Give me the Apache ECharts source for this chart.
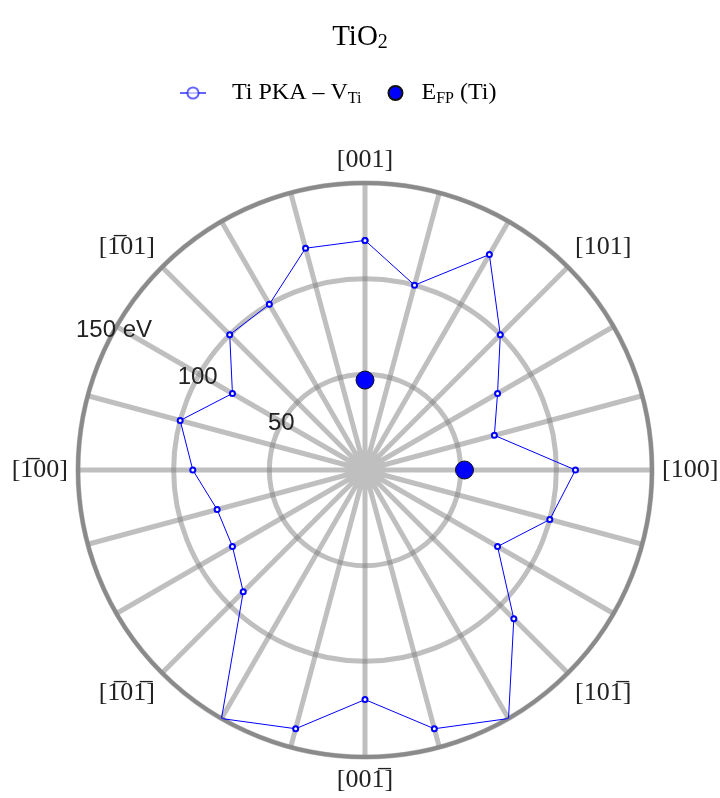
<!DOCTYPE html>
<html>
<head>
<meta charset="utf-8">
<script src="https://cdn.jsdelivr.net/npm/echarts@6/dist/echarts.min.js"></script>
<style>
  html, body { margin: 0; padding: 0; background: #fff; }
  #chart { width: 720px; height: 798px; }
</style>
</head>
<body>
<div id="chart"></div>
<script>
// angles in degrees, clockwise from [001]
const angles = [0, 15, 30, 45, 60, 75, 90, 105, 120, 135, 150, 165,
  180, 195, 210, 225, 240, 255, 270, 285, 300, 315, 330, 345];
const pkaEnergy = [120, 100, 130, 100, 80, 70, 110, 100, 80, 110, 150, 140,
  120, 140, 150, 90, 80, 80, 90, 100, 80, 100, 100, 120];
const efpAngles = [0, 90];
const efpEnergy = [47, 52];
const dirAngles = [0, 45, 90, 135, 180, 225, 270, 315];
const dirLabels = ['[001]', '[101]', '[100]', '[101\u0305]', '[001\u0305]',
  '[1\u030501\u0305]', '[1\u030500]', '[1\u030501]'];
const radiusTicks = [50, 100, 150];

const gridColor = 'rgba(128,128,128,0.5)';
const serif = 'Liberation Serif';

const pkaData = angles.map((a, i) => [pkaEnergy[i], a]);
pkaData.push(pkaData[0]); // close the loop
const efpData = efpAngles.map((a, i) => [efpEnergy[i], a]);

const legendNames = {
  'Ti PKA – V_Ti': '{g|}{a|Ti PKA – V}{s|Ti}',
  'E_FP (Ti)': '{h|}{a|E}{s|FP}{a| (Ti)}',
};

const chart = echarts.init(document.getElementById('chart'));
chart.setOption({
  backgroundColor: '#fff',
  title: {
    text: '{a|TiO}{s|2}',
    left: 'center',
    top: 16,
    textStyle: {
      fontWeight: 'normal',
      rich: {
        a: { fontFamily: serif, fontSize: 29, fontWeight: 'normal', color: '#000' },
        s: { fontFamily: serif, fontSize: 20, fontWeight: 'normal', color: '#000', padding: [12, 0, 0, 0] },
      },
    },
  },
  legend: {
    top: 76,
    left: 174,
    itemGap: 26,
    itemWidth: 26,
    itemHeight: 14,
    data: [
      { name: 'Ti PKA – V_Ti', lineStyle: { opacity: 0.6 }, itemStyle: { opacity: 0.6 } },
      'E_FP (Ti)',
    ],
    formatter: (name) => legendNames[name],
    textStyle: {
      rich: {
        g: { width: 21 },
        h: { width: 8 },
        a: { fontFamily: serif, fontSize: 24, color: '#000' },
        s: { fontFamily: serif, fontSize: 16, color: '#000', padding: [11, 0, 0, 0] },
      },
    },
  },
  polar: [
    { center: [365, 470], radius: 287 },
    { center: [365, 470], radius: 287 },
  ],
  angleAxis: [
    {
      polarIndex: 0,
      type: 'value',
      min: 0,
      max: 360,
      interval: 15,
      startAngle: 90,
      clockwise: true,
      axisLine: { show: true, lineStyle: { color: '#8a8a8a', width: 4 } },
      axisTick: { show: false },
      splitLine: { show: true, lineStyle: { color: gridColor, width: 5 } },
      axisLabel: {
        margin: 10,
        fontFamily: serif,
        fontSize: 26,
        color: '#222',
        formatter: (v) => {
          const i = dirAngles.indexOf(v);
          return i >= 0 ? dirLabels[i] : '';
        },
      },
    },
    {
      polarIndex: 1,
      type: 'value',
      min: 0,
      max: 360,
      startAngle: 151,
      show: false,
    },
  ],
  radiusAxis: [
    {
      polarIndex: 0,
      min: 0,
      max: 150,
      interval: 50,
      axisLine: { show: false },
      axisTick: { show: false },
      axisLabel: { show: false },
      splitLine: { show: true, lineStyle: { color: gridColor, width: 5 } },
    },
    {
      polarIndex: 1,
      min: 0,
      max: 150,
      interval: 50,
      z: 10,
      axisLine: { show: false },
      axisTick: { show: false },
      splitLine: { show: false },
      axisLabel: {
        margin: 0,
        rotate: 0,
        align: 'center',
        verticalAlign: 'middle',
        fontFamily: 'Liberation Sans',
        fontSize: 24,
        color: '#222',
        formatter: (v) => {
          if (!radiusTicks.includes(v)) return '';
          return v === 150 ? v + ' eV' : String(v);
        },
      },
    },
  ],
  series: [
    {
      name: 'Ti PKA – V_Ti',
      type: 'line',
      coordinateSystem: 'polar',
      polarIndex: 0,
      data: pkaData,
      symbol: 'emptyCircle',
      symbolSize: 5,
      showAllSymbol: true,
      lineStyle: { color: '#0000ff', width: 1 },
      itemStyle: { color: '#0000ff', borderWidth: 1.2 },
      z: 5,
    },
    {
      name: 'E_FP (Ti)',
      type: 'scatter',
      coordinateSystem: 'polar',
      polarIndex: 0,
      data: efpData,
      symbolSize: 18,
      itemStyle: { color: '#0000ff', borderColor: '#111', borderWidth: 1, opacity: 1 },
      z: 6,
    },
  ],
});
</script>
</body>
</html>
